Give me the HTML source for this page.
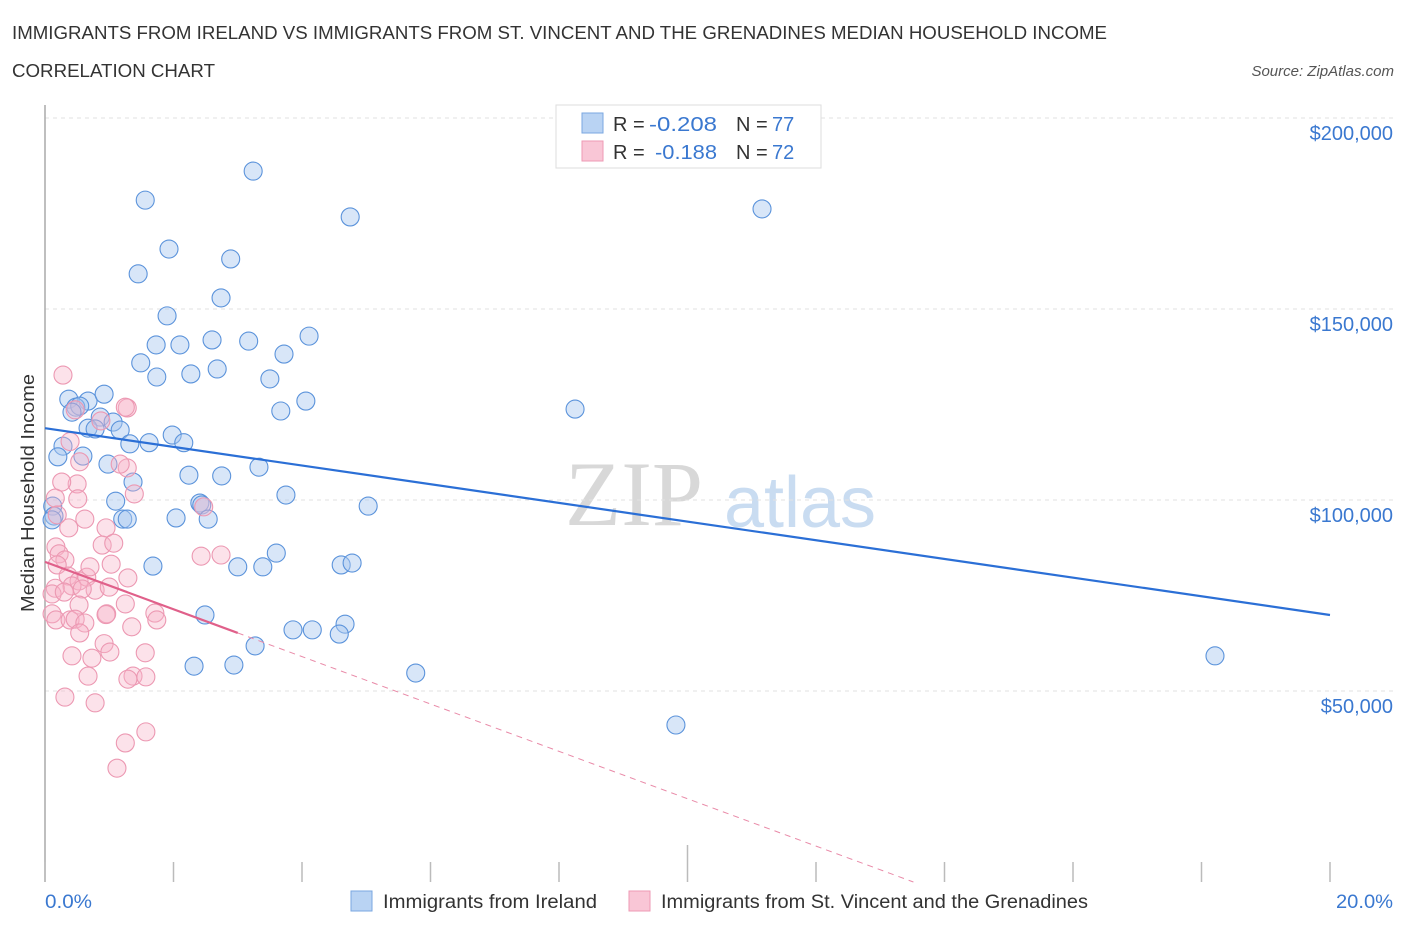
<!DOCTYPE html>
<html><head><meta charset="utf-8">
<style>
body{margin:0;background:#fff;font-family:"Liberation Sans",sans-serif;}
#wrap{position:relative;width:1406px;height:930px;overflow:hidden;}
</style></head>
<body>
<div id="wrap">
<svg id="chart" width="1406" height="930" style="position:absolute;left:0;top:0">
<text x="12" y="39" font-size="18" fill="#333" textLength="1095" lengthAdjust="spacingAndGlyphs">IMMIGRANTS FROM IRELAND VS IMMIGRANTS FROM ST. VINCENT AND THE GRENADINES MEDIAN HOUSEHOLD INCOME</text>
<text x="12" y="77" font-size="18" fill="#333" textLength="203" lengthAdjust="spacingAndGlyphs">CORRELATION CHART</text>
<text x="1394" y="76" font-size="15" fill="#555" font-style="italic" text-anchor="end">Source: ZipAtlas.com</text>
<text x="634" y="525" font-size="92" fill="#d8d8d8" font-family="Liberation Serif,serif" text-anchor="middle">ZIP</text>
<text x="800" y="527" font-size="72" fill="#c9dcf1" text-anchor="middle">atlas</text>
<g id="grid"></g>
<g id="axes"></g>
<g id="pts"></g>
<g id="trend"></g>
<text transform="translate(34,493) rotate(-90)" font-size="18" fill="#333" text-anchor="middle" textLength="238" lengthAdjust="spacingAndGlyphs">Median Household Income</text>
<text x="45" y="908" font-size="19" fill="#3a78d0" textLength="47" lengthAdjust="spacingAndGlyphs">0.0%</text>
<text x="1336" y="908" font-size="19" fill="#3a78d0" textLength="57" lengthAdjust="spacingAndGlyphs">20.0%</text>
<g>
<rect x="556" y="105" width="265" height="63" fill="#fff" stroke="#ddd"/>
<rect x="582" y="113" width="21" height="20" fill="#b9d3f3" stroke="#7aa7e0"/>
<rect x="582" y="141" width="21" height="20" fill="#f9c6d6" stroke="#ee9ab4"/>
<text x="613" y="131" font-size="20" fill="#333">R =</text>
<text x="649" y="131" font-size="20" fill="#3a78d0" textLength="68" lengthAdjust="spacingAndGlyphs">-0.208</text>
<text x="736" y="131" font-size="20" fill="#333">N =</text>
<text x="772" y="131" font-size="20" fill="#3a78d0">77</text>
<text x="613" y="159" font-size="20" fill="#333">R =</text>
<text x="655" y="159" font-size="20" fill="#3a78d0" textLength="62" lengthAdjust="spacingAndGlyphs">-0.188</text>
<text x="736" y="159" font-size="20" fill="#333">N =</text>
<text x="772" y="159" font-size="20" fill="#3a78d0">72</text>
</g>
<g>
<rect x="351" y="891" width="21" height="20" fill="#b9d3f3" stroke="#7aa7e0"/>
<text x="383" y="908" font-size="19" fill="#333" textLength="214" lengthAdjust="spacingAndGlyphs">Immigrants from Ireland</text>
<rect x="629" y="891" width="21" height="20" fill="#f9c6d6" stroke="#ee9ab4"/>
<text x="661" y="908" font-size="19" fill="#333" textLength="427" lengthAdjust="spacingAndGlyphs">Immigrants from St. Vincent and the Grenadines</text>
</g>
</svg>
</div>
<script>
const yTicks=[50000,100000,150000,200000];
const yTickLabels=["$50,000","$100,000","$150,000","$200,000"];
const xTickValues=[0,2,4,6,8,10,12,14,16,18,20];
// Ireland: x in %, income in $k
const irelandX=[3.24,1.56,4.75,11.16,1.93,2.89,1.45,2.74,1.90,2.60,4.11,1.73,2.10,3.17,3.72,1.49,1.74,2.27,2.68,3.50,0.37,0.67,0.92,0.48,0.54,3.67,4.06,8.25,0.42,0.86,1.06,0.67,0.78,1.17,1.98,1.32,1.62,2.16,0.28,0.59,0.20,0.98,3.33,2.24,2.75,1.37,1.10,2.41,2.44,3.75,5.03,0.12,0.14,1.21,1.28,2.04,2.54,3.60,1.68,3.00,3.39,4.61,4.78,2.49,3.86,4.16,4.67,4.58,3.27,2.32,2.94,5.77,9.82,18.21,0.11];
const irelandY=[186.1,178.5,174.1,176.2,165.7,163.1,159.2,152.9,148.2,141.9,142.9,140.6,140.6,141.6,138.2,135.9,132.2,133.0,134.3,131.7,126.4,125.9,127.7,124.3,124.6,123.3,125.9,123.8,123.0,121.7,120.4,118.8,118.6,118.3,117.0,114.7,115.0,115.0,114.1,111.5,111.3,109.4,108.6,106.5,106.3,104.7,99.7,99.2,98.7,101.3,98.4,98.4,95.8,95.0,95.0,95.3,95.0,86.1,82.7,82.5,82.5,83.0,83.5,69.9,66.0,66.0,67.5,64.9,61.8,56.5,56.8,54.7,41.1,59.2,94.8];
// St. Vincent: x in %, income in $k
const vincentX=[0.28,0.47,1.28,0.87,0.39,0.54,0.50,1.28,0.26,0.16,0.51,1.39,0.37,0.62,0.95,0.89,0.17,0.22,0.31,1.07,0.19,0.36,0.53,0.65,0.42,0.16,0.78,0.70,1.03,0.58,1.00,0.11,1.29,0.30,0.53,0.11,0.17,0.39,0.96,0.47,1.25,0.95,0.92,1.01,0.62,0.54,1.35,1.71,1.74,0.42,0.73,0.67,1.37,1.57,1.29,1.56,0.31,0.78,1.25,1.57,1.12,2.43,2.74,2.47,1.25,1.17,0.19];
const vincentY=[132.7,123.6,124.1,120.7,115.3,110.0,104.2,108.4,104.7,100.5,100.3,101.6,92.7,95.0,92.7,88.2,87.7,85.9,84.3,88.7,83.0,80.1,78.8,79.8,77.5,76.9,76.4,82.5,83.2,76.7,77.2,75.4,79.6,75.9,72.5,70.2,68.6,68.6,70.2,68.8,72.8,70.0,62.4,60.2,67.8,65.2,66.8,70.4,68.6,59.2,58.6,53.9,53.9,53.7,53.1,60.0,48.4,46.9,36.4,39.3,29.8,85.3,85.6,98.2,124.3,109.4,96.1];
const irelandTrend=[118.8,69.9];   // $k at 0% and 20%
const vincentTrend=[83.8,65.2,3.0]; // $k at 0%, at end%, end%
const NS='http://www.w3.org/2000/svg';
function sx(v){return 45+v/20*1285;}
function sy(k){return 882-k/50*191;}
function mk(tag,attrs,parent){const e=document.createElementNS(NS,tag);for(const k in attrs)e.setAttribute(k,attrs[k]);parent.appendChild(e);return e;}
const grid=document.getElementById('grid'),axes=document.getElementById('axes'),pts=document.getElementById('pts'),trend=document.getElementById('trend');
yTicks.forEach((t,i)=>{
 const y=sy(t/1000);
 const l=mk('line',{x1:45,x2:1395,y1:y,y2:y,stroke:'#e2e2e2','stroke-dasharray':'4,4'},grid);
 
 
 const tx=mk('text',{x:1393,y:y+22,'font-size':20,fill:'#3a78d0','text-anchor':'end'},grid);
 tx.textContent=yTickLabels[i];
 
 
});
const ya=mk('line',{x1:45,x2:45,y1:105,y2:882,stroke:'#aaa','stroke-width':1.5},axes);


xTickValues.forEach(v=>{
 const x=sx(v);
 const t=mk('line',{x1:x,x2:x,y1:(v===10?845:862),y2:882,stroke:'#bbb','stroke-width':1.5},axes);
 
 
});
irelandX.forEach((x,i)=>{
 const c=mk('circle',{cx:sx(x),cy:sy(irelandY[i]),r:9,fill:'rgba(168,200,240,0.45)',stroke:'#5b93db','stroke-width':1.1},pts);
 
 
});
vincentX.forEach((x,i)=>{
 const c=mk('circle',{cx:sx(x),cy:sy(vincentY[i]),r:9,fill:'rgba(246,178,200,0.38)',stroke:'#ec98b2','stroke-width':1.1},pts);
 
 
});
const bl=mk('line',{x1:sx(0),y1:sy(irelandTrend[0]),x2:sx(20),y2:sy(irelandTrend[1]),stroke:'#2b6fd6','stroke-width':2.2},trend);


const slope=(vincentTrend[1]-vincentTrend[0])/vincentTrend[2];
const xZero=-vincentTrend[0]/slope;
const pd=mk('line',{x1:sx(vincentTrend[2]),y1:sy(vincentTrend[1]),x2:sx(xZero),y2:sy(0),stroke:'#e98aa8','stroke-width':1,'stroke-dasharray':'6,5'},trend);


const pl=mk('line',{x1:sx(0),y1:sy(vincentTrend[0]),x2:sx(vincentTrend[2]),y2:sy(vincentTrend[1]),stroke:'#e0608a','stroke-width':2.2},trend);


</script>
</body></html>
